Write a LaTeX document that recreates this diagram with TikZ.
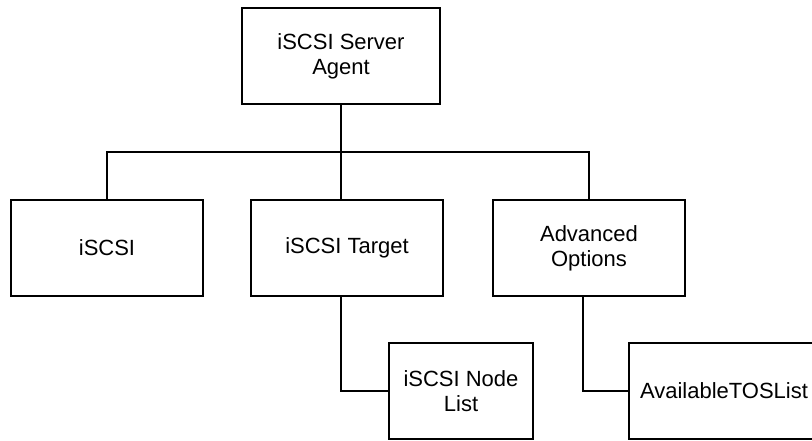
\documentclass[tikz,border=0pt]{standalone}
\usepackage{fontspec}
\setmainfont{Liberation Sans}
\begin{document}
\begin{tikzpicture}[x=1pt,y=-1pt,
  box/.style={draw,line width=1.8pt,rectangle,minimum height=96pt,align=center,inner sep=0pt,
    font=\fontsize{22}{25}\selectfont},
  conn/.style={line width=1.8pt}]
\useasboundingbox (0,0) rectangle (812,440);
\node[box,minimum width=198pt] (top) at (341,56) {iSCSI Server\\Agent};
\node[box,minimum width=192pt] (isc) at (107,248) {iSCSI};
\node[box,minimum width=192pt] (tgt) at (347,248) {iSCSI Target};
\node[box,minimum width=192pt] (adv) at (589,248) {Advanced\\Options};
\node[box,minimum width=144pt] (nl) at (461,391) {iSCSI Node\\List};
\node[box,minimum width=190pt] (tos) at (724,391) {AvailableTOSList};
\coordinate (hr) at (589,152);
\draw[conn] (top.south) -- ([xshift=-6pt]tgt.north);
\draw[conn] (isc.north) |- (hr) -- (adv.north);
\draw[conn] ([xshift=-6pt]tgt.south) |- (nl.west);
\draw[conn] ([xshift=-6pt]adv.south) |- (tos.west);
\end{tikzpicture}
\end{document}
